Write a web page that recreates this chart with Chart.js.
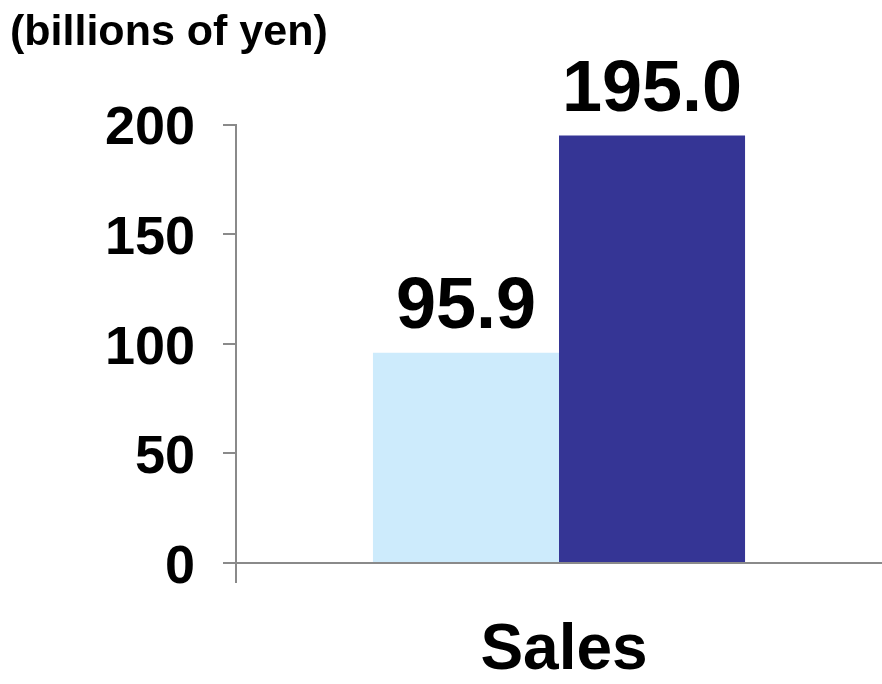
<!DOCTYPE html>
<html>
<head>
<meta charset="utf-8">
<script src="https://cdn.jsdelivr.net/npm/chart.js@4/dist/chart.umd.min.js"></script>
<style>
  html, body { margin: 0; padding: 0; background: #fff; }
  #wrap { width: 882px; height: 684px; }
</style>
</head>
<body>
<div id="wrap"><canvas id="salesChart"></canvas></div>
<script>
// chart data
const categories = ['Sales'];
const previousValues = [95.9];
const currentValues = [195.0];
const yTicks = [0, 50, 100, 150, 200];

const axisGray = '#8a8a8a';
const fontFamily = '"Liberation Sans", Arial, sans-serif';

// draws the value above each bar
const barLabels = {
    id: 'barLabels',
    afterDraw(chart) {
        const ctx = chart.ctx;
        ctx.save();
        ctx.fillStyle = '#000';
        ctx.font = 'bold 72px ' + fontFamily;
        ctx.textAlign = 'center';
        ctx.textBaseline = 'alphabetic';
        chart.data.datasets.forEach((ds, i) => {
            chart.getDatasetMeta(i).data.forEach((bar, j) => {
                ctx.fillText(ds.data[j].toFixed(1), bar.x, bar.y - 25);
            });
        });
        ctx.restore();
    }
};

const ctx = document.getElementById('salesChart').getContext('2d');
const chart = new Chart(ctx, {
    type: 'bar',
    data: {
        labels: categories,
        datasets: [{
            label: 'Previous',
            data: previousValues,
            backgroundColor: '#cdebfc',
            categoryPercentage: 0.576,
            barPercentage: 1.0
        }, {
            label: 'Current',
            data: currentValues,
            backgroundColor: '#353595',
            categoryPercentage: 0.576,
            barPercentage: 1.0
        }]
    },
    options: {
        responsive: true,
        maintainAspectRatio: false,
        animation: false,
        layout: { padding: { left: 10, right: 0, top: 0, bottom: 0 } },
        plugins: {
            legend: { display: false },
            tooltip: { enabled: false },
            title: {
                display: true,
                text: '(billions of yen)',
                align: 'start',
                color: '#000',
                font: { family: fontFamily, size: 43, weight: 'bold' },
                padding: { top: 7, bottom: 66 }
            }
        },
        scales: {
            x: {
                z: 1,
                afterFit: s => { s.height = 121; },
                border: { display: true, color: axisGray, width: 2 },
                grid: {
                    drawOnChartArea: false,
                    drawTicks: true,
                    tickLength: 20,
                    lineWidth: 2,
                    color: c => c.index === 0 ? axisGray : 'rgba(0,0,0,0)'
                },
                ticks: {
                    color: '#000',
                    padding: 30,
                    labelOffset: 5,
                    font: { family: fontFamily, size: 64, weight: 'bold' }
                }
            },
            y: {
                min: 0,
                max: 200,
                afterFit: s => { s.width = 226; },
                afterBuildTicks: s => { s.ticks = yTicks.map(v => ({ value: v })); },
                border: { display: true, color: axisGray, width: 2 },
                grid: {
                    drawOnChartArea: false,
                    drawTicks: true,
                    tickLength: 13,
                    lineWidth: 2,
                    color: axisGray
                },
                ticks: {
                    color: '#000',
                    padding: 28,
                    labelOffset: 5,
                    font: { family: fontFamily, size: 54, weight: 'bold' }
                }
            }
        }
    },
    plugins: [barLabels]
});
</script>
</body>
</html>
